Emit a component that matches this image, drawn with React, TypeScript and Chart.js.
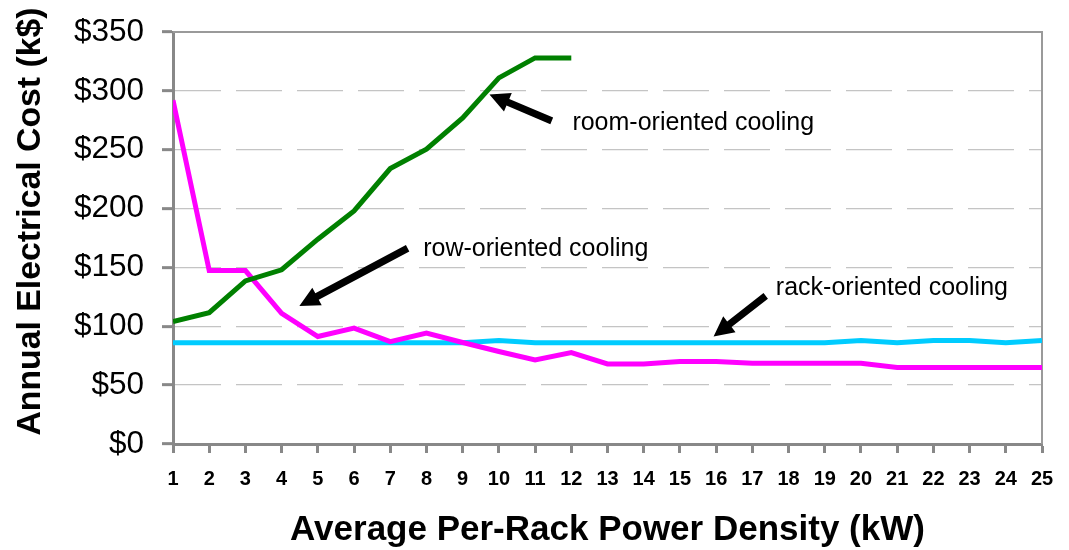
import React, { useEffect, useRef } from 'react';
import { Chart, registerables } from 'chart.js';

Chart.register(...registerables);

// ---- data ----
const powerDensityKW = [1, 2, 3, 4, 5, 6, 7, 8, 9, 10, 11, 12, 13, 14, 15, 16, 17, 18, 19, 20, 21, 22, 23, 24, 25];
const roomOrientedCost = [104, 111.6, 138.5, 148, 174, 198, 234, 250.5, 277, 311, 328, 328];
const rowOrientedCost = [292, 147.3, 147.3, 111, 91.3, 98.4, 87, 94.2, 86.2, 78.6, 71.5, 77.7, 68, 68, 70, 70, 68.5, 68.5, 68.5, 68.5, 65, 65, 65, 65, 65];
const rackOrientedCost = [86, 86, 86, 86, 86, 86, 86, 86, 86, 88, 86, 86, 86, 86, 86, 86, 86, 86, 86, 88, 86, 88, 88, 86, 88];
const yTickValues = [0, 50, 100, 150, 200, 250, 300, 350];

const annotationLabels = ['room-oriented cooling', 'row-oriented cooling', 'rack-oriented cooling'];
const labelAnchorKW = [12.03, 7.91, 17.65];
const labelAnchorCost = [266.6, 159.7, 126.7];
const arrowTailKW = [11.46, 7.48, 17.37];
const arrowTailCost = [274.5, 166.3, 125.8];
const arrowTipKW = [9.74, 4.49, 15.93];
const arrowTipCost = [296.9, 117.3, 91.3];

const xTitle = 'Average Per-Rack Power Density (kW)';
const yTitle = 'Annual Electrical Cost (k$)';

const FONT = '"Liberation Sans", Arial, Helvetica, sans-serif';

function drawArrow(ctx: CanvasRenderingContext2D, x1: number, y1: number, x2: number, y2: number) {
  const ang = Math.atan2(y2 - y1, x2 - x1);
  const len = Math.hypot(x2 - x1, y2 - y1);
  const headLen = 20;
  const headHalf = 10;
  const shaftHalf = 3.6;
  ctx.save();
  ctx.translate(x1, y1);
  ctx.rotate(ang);
  ctx.fillStyle = '#000';
  ctx.beginPath();
  ctx.moveTo(0, -shaftHalf);
  ctx.lineTo(len - headLen, -shaftHalf);
  ctx.lineTo(len - headLen, -headHalf);
  ctx.lineTo(len, 0);
  ctx.lineTo(len - headLen, headHalf);
  ctx.lineTo(len - headLen, shaftHalf);
  ctx.lineTo(0, shaftHalf);
  ctx.closePath();
  ctx.fill();
  ctx.restore();
}

const overlayPlugin = {
  id: 'overlay',
  beforeDatasetsDraw(chart: any) {
    const { ctx, chartArea } = chart;
    const { left, right, top, bottom } = chartArea;
    ctx.save();
    ctx.strokeStyle = '#9a9a9a';
    ctx.lineWidth = 2;
    ctx.beginPath();
    ctx.moveTo(left, top);
    ctx.lineTo(right, top);
    ctx.lineTo(right, bottom);
    ctx.stroke();
    ctx.restore();
  },
  afterDatasetsDraw(chart: any) {
    const { ctx } = chart;
    const xs = chart.scales.x;
    const ys = chart.scales.y;
    for (let i = 0; i < annotationLabels.length; i++) {
      drawArrow(
        ctx,
        xs.getPixelForValue(arrowTailKW[i]),
        ys.getPixelForValue(arrowTailCost[i]),
        xs.getPixelForValue(arrowTipKW[i]),
        ys.getPixelForValue(arrowTipCost[i])
      );
      ctx.save();
      ctx.fillStyle = '#000';
      ctx.font = `25px ${FONT}`;
      ctx.textAlign = 'left';
      ctx.textBaseline = 'alphabetic';
      ctx.fillText(annotationLabels[i], xs.getPixelForValue(labelAnchorKW[i]), ys.getPixelForValue(labelAnchorCost[i]));
      ctx.restore();
    }
  },
  afterDraw(chart: any) {
    const { ctx } = chart;
    ctx.save();
    ctx.translate(31, 221.5);
    ctx.rotate(-Math.PI / 2);
    ctx.fillStyle = '#000';
    ctx.font = `bold 33.8px ${FONT}`;
    ctx.textAlign = 'center';
    ctx.textBaseline = 'middle';
    ctx.fillText(yTitle, 0, 0);
    ctx.restore();
  },
};

export default function App() {
  const canvasRef = useRef<HTMLCanvasElement | null>(null);

  useEffect(() => {
    const canvas = canvasRef.current;
    if (!canvas) return;
    const chart = new Chart(canvas, {
      type: 'line',
      data: {
        datasets: [
          {
            label: 'room-oriented cooling',
            data: roomOrientedCost.map((v, i) => ({ x: powerDensityKW[i], y: v })),
            borderColor: '#008000',
            backgroundColor: '#008000',
          },
          {
            label: 'row-oriented cooling',
            data: rowOrientedCost.map((v, i) => ({ x: powerDensityKW[i], y: v })),
            borderColor: '#ff00ff',
            backgroundColor: '#ff00ff',
          },
          {
            label: 'rack-oriented cooling',
            data: rackOrientedCost.map((v, i) => ({ x: powerDensityKW[i], y: v })),
            borderColor: '#00ccff',
            backgroundColor: '#00ccff',
          },
        ],
      },
      options: {
        animation: false,
        responsive: false,
        devicePixelRatio: 1,
        layout: { padding: { top: 32, right: 27, left: 0, bottom: 0 } },
        plugins: {
          legend: { display: false },
          tooltip: { enabled: false },
          title: { display: false },
        },
        elements: {
          point: { radius: 0 },
          line: { borderWidth: 5, tension: 0 },
        },
        scales: {
          x: {
            type: 'linear',
            min: powerDensityKW[0],
            max: powerDensityKW[powerDensityKW.length - 1],
            afterBuildTicks: (s: any) => {
              s.ticks = powerDensityKW.map((v) => ({ value: v }));
            },
            ticks: {
              autoSkip: false,
              maxRotation: 0,
              color: '#000',
              padding: 14,
              font: { family: FONT, size: 20, weight: 'bold' },
            },
            grid: {
              drawOnChartArea: false,
              tickLength: 9,
              tickColor: '#888',
              tickWidth: 3,
            },
            border: { display: true, color: '#888', width: 3 },
            title: {
              display: true,
              text: xTitle,
              color: '#000',
              font: { family: FONT, size: 35, weight: 'bold', lineHeight: 1 },
              padding: { top: 0, bottom: 2 },
            },
            afterFit: (s: any) => {
              s.height = 106;
            },
          },
          y: {
            type: 'linear',
            min: 0,
            max: 350,
            afterBuildTicks: (s: any) => {
              s.ticks = yTickValues.map((v) => ({ value: v }));
            },
            ticks: {
              color: '#000',
              padding: 18,
              font: { family: FONT, size: 31.5 },
              callback: (v: any) => '$' + v,
            },
            grid: {
              color: '#c4c4c4',
              lineWidth: 1.3,
              tickLength: 11,
              tickColor: '#888',
              tickWidth: 3,
              tickBorderDash: [],
            },
            border: { display: true, color: '#888', width: 3, dash: [46, 15] },
            afterFit: (s: any) => {
              s.width = 173;
              s.paddingTop = 0;
              s.paddingBottom = 0;
            },
          },
        },
      },
      plugins: [overlayPlugin],
    } as any);
    return () => chart.destroy();
  }, []);

  return (
    <div style={{ position: 'absolute', left: 0, top: 0, width: 1069, height: 550, background: '#fff' }}>
      <canvas ref={canvasRef} width={1069} height={550} style={{ width: 1069, height: 550, display: 'block' }} />
    </div>
  );
}
